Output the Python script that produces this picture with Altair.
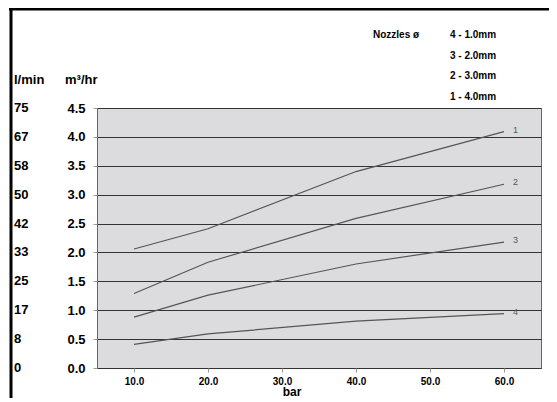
import altair as alt
import pandas as pd

# ---- data ----
pressure_bar = [10, 20, 40, 60]
nozzle_1 = [2.06, 2.41, 3.40, 4.09]
nozzle_2 = [1.29, 1.83, 2.59, 3.18]
nozzle_3 = [0.88, 1.26, 1.80, 2.18]
nozzle_4 = [0.41, 0.59, 0.81, 0.94]
nozzle_ids = ["1", "2", "3", "4"]
m3_ticks = [0.0, 0.5, 1.0, 1.5, 2.0, 2.5, 3.0, 3.5, 4.0, 4.5]
lmin_ticks = ["0", "8", "17", "25", "33", "42", "50", "58", "67", "75"]
x_ticks = [10, 20, 30, 40, 50, 60]
legend_lines = ["4 - 1.0mm", "3 - 2.0mm", "2 - 3.0mm", "1 - 4.0mm"]

rows = []
for nid, series in zip(nozzle_ids, [nozzle_1, nozzle_2, nozzle_3, nozzle_4]):
    for p, v in zip(pressure_bar, series):
        rows.append({"nozzle": nid, "bar": p, "flow": v})
df = pd.DataFrame(rows)
lmin_df = pd.DataFrame({"m3": m3_ticks, "lmin": lmin_ticks})

FONT = "Liberation Sans"
W, H = 444, 260

xscale = alt.Scale(domain=[5, 65], nice=False, zero=False)
yscale = alt.Scale(domain=[0, 4.5], nice=False)

x_axis = alt.Axis(values=x_ticks, format=".1f", grid=False, domain=False,
                  tickSize=4, tickColor="#999", labelFont=FONT, labelFontSize=10,
                  labelFontWeight="bold", labelColor="#000", labelPadding=4, title=None,
                  labelOverlap=False)
y_axis = alt.Axis(values=m3_ticks, format=".1f", grid=True, gridColor="#333",
                  gridWidth=1.1, domain=False, tickSize=4, tickColor="#999",
                  labelFont=FONT, labelFontSize=13, labelFontWeight="bold",
                  labelColor="#000", labelPadding=8, title=None, labelOverlap=False,
                  labelFlush=False)

lines = alt.Chart(df).mark_line(color="#555", strokeWidth=1.2).encode(
    x=alt.X("bar:Q", scale=xscale, axis=x_axis),
    y=alt.Y("flow:Q", scale=yscale, axis=y_axis),
    detail="nozzle:N",
)

end_labels = alt.Chart(df).transform_filter(alt.datum.bar == 60).mark_text(
    align="left", baseline="middle", dx=9, dy=-2, font=FONT, fontSize=9, color="#555"
).encode(x=alt.X("bar:Q", scale=xscale, axis=x_axis),
         y=alt.Y("flow:Q", scale=yscale, axis=y_axis), text="nozzle:N")

lmin_labels = alt.Chart(lmin_df).mark_text(
    align="left", baseline="middle", font=FONT, fontSize=13, fontWeight="bold", color="#000"
).encode(x=alt.value(-83), y=alt.Y("m3:Q", scale=yscale, axis=y_axis), text="lmin:N")

txt = dict(font=FONT, fontWeight="bold", color="#000", baseline="middle", align="left")
base = alt.Chart(pd.DataFrame({"a": [0]}))
h_lmin = base.mark_text(fontSize=13, text="l/min", **txt).encode(x=alt.value(-83), y=alt.value(-28))
h_m3 = base.mark_text(fontSize=13, text="m³/hr", **txt).encode(x=alt.value(-32), y=alt.value(-28))
nozzles = base.mark_text(fontSize=10, text="Nozzles ø", **txt).encode(x=alt.value(276), y=alt.value(-73))
legend = base.mark_text(fontSize=10, text=legend_lines, lineHeight=20.5, **{**txt, "baseline": "top"}).encode(
    x=alt.value(353), y=alt.value(-78))
bar_title = base.mark_text(fontSize=12, text="bar", **{**txt, "align": "center"}).encode(
    x=alt.value(195), y=alt.value(284))
left_border = base.mark_rule(color="#000", strokeWidth=3).encode(
    x=alt.value(-86), y=alt.value(-100), y2=alt.value(300))
top_border = base.mark_rule(color="#000", strokeWidth=3).encode(
    y=alt.value(-99), x=alt.value(-88), x2=alt.value(460))

chart = alt.layer(
    lines, end_labels, lmin_labels, h_lmin, h_m3, nozzles, legend, bar_title,
    left_border, top_border
).properties(
    width=W, height=H,
    autosize=alt.AutoSizeParams(type="none"),
    padding={"left": 89, "top": 100, "right": 8, "bottom": 30},
    background="white",
).configure_view(fill="#dcdcde", stroke="#666", strokeWidth=1)

chart.save("out.html", embed_options={"renderer": "svg", "actions": False})
